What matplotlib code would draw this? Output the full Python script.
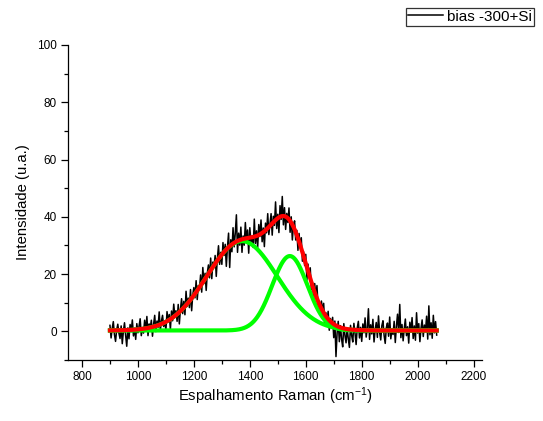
import numpy as np
import matplotlib
matplotlib.use("Agg")
import matplotlib.pyplot as plt
from matplotlib.ticker import MultipleLocator

plt.rcParams['font.family'] = ['Liberation Sans', 'DejaVu Sans']
plt.rcParams['mathtext.fontset'] = 'custom'
plt.rcParams['mathtext.rm'] = 'Liberation Sans'
plt.rcParams['mathtext.default'] = 'regular'

# Raman shift grid (cm^-1) and measured intensity (a.u.)
shift_start, shift_step = 900, 4
intensity = [
    2.1, -2.3, 1.0, 3.4, -1.1, -3.5, 0.5, 2.5, -0.6, -2.5,
    1.9, -4.3, 0.0, 3.0, -1.4, -5.2, 1.2, -2.6, 2.4, -0.1,
    4.0, -1.6, 1.1, -2.8, 2.7, -0.5, 1.8, 4.4, -1.5, 1.2,
    -0.6, 3.9, 0.3, 5.2, -1.5, 2.6, 1.2, 3.9, -1.7, 2.5,
    5.6, -0.1, 3.6, 1.4, 6.8, 0.3, 3.6, 5.6, 1.7, 3.5,
    0.4, 6.9, 3.4, 5.9, 0.7, 7.1, 3.7, 9.5, 5.2, 7.2,
    3.5, 9.4, 2.6, 7.7, 11.4, 6.2, 10.5, 5.8, 14.0, 8.7,
    11.6, 8.3, 14.6, 7.2, 12.8, 15.3, 11.7, 17.7, 11.1, 16.0,
    14.8, 19.7, 13.7, 22.3, 16.7, 20.3, 14.3, 20.4, 23.2, 18.7,
    25.6, 18.4, 24.2, 22.7, 26.5, 19.2, 25.5, 29.9, 23.4, 27.6,
    23.4, 31.0, 26.5, 30.4, 22.7, 29.5, 34.3, 22.3, 32.0, 27.8,
    36.2, 29.5, 34.3, 40.7, 27.6, 34.3, 30.1, 36.4, 27.6, 33.3,
    30.1, 38.0, 31.8, 35.4, 27.3, 36.2, 31.2, 33.3, 29.3, 39.2,
    30.7, 35.1, 29.3, 37.3, 33.1, 38.9, 31.3, 36.1, 29.6, 37.8,
    34.4, 41.1, 33.8, 37.4, 41.1, 33.6, 40.2, 37.0, 45.2, 35.9,
    40.9, 34.5, 43.9, 39.1, 47.1, 37.2, 43.2, 35.6, 41.2, 38.0,
    43.1, 34.6, 40.0, 31.9, 37.1, 38.6, 31.9, 35.3, 28.3, 34.2,
    29.5, 32.7, 24.5, 27.8, 23.0, 26.9, 17.9, 23.5, 19.1, 22.2,
    14.6, 17.1, 11.3, 16.7, 11.7, 16.0, 8.6, 10.5, 5.8, 10.6,
    7.0, 9.8, 2.1, 6.5, 2.8, 7.0, 0.4, 4.5, 1.8, 4.9,
    -2.2, 3.6, -8.8, -0.6, 3.5, -3.6, 2.0, -2.7, -5.4, 2.7,
    -1.4, -4.0, 1.2, -2.6, -5.6, 2.1, -1.4, -3.7, 2.8, -0.6,
    -4.6, 1.2, 3.5, -2.3, 1.4, -3.5, 2.6, -0.5, 4.7, -2.0,
    1.0, 7.9, -2.8, 2.3, -0.9, 4.2, -3.7, 0.6, 3.1, -2.1,
    5.4, -0.3, -3.0, 2.0, 3.7, -1.4, -4.2, 1.3, 2.9, -1.7,
    5.0, -2.6, 0.8, -1.1, 3.5, -3.9, 1.7, 6.0, -0.4, 9.4,
    -2.2, 2.4, -3.3, 0.9, 4.3, -1.5, 1.6, -4.1, 3.2, -0.2,
    4.8, -2.5, 1.9, -3.1, 6.5, -0.6, 2.7, -3.6, 1.1, 4.0,
    -1.8, 2.2, 0.0, 5.3, -2.7, 8.9, -1.2, 3.0, -2.4, 5.6,
    -0.5, 3.4, -1.3,
]
shift = shift_start + shift_step * np.arange(len(intensity))

# Fitted Gaussian components: (centre cm^-1, height a.u., sigma cm^-1)
baseline = 0.3
peak_d = (1372, 31.2, 126)
peak_g = (1543, 26.0, 63)

fit_x = np.linspace(shift[0], shift[-1], 600)


def gaussian(x, centre, height, sigma):
    return height * np.exp(-(x - centre) ** 2 / (2 * sigma ** 2))


comp_d = baseline + gaussian(fit_x, *peak_d)
comp_g = baseline + gaussian(fit_x, *peak_g)
total = baseline + gaussian(fit_x, *peak_d) + gaussian(fit_x, *peak_g)

fig = plt.figure(figsize=(5.43, 4.21), dpi=100)
ax = fig.add_axes([68 / 543, 61 / 421, 414 / 543, 315 / 421])

line, = ax.plot(shift, intensity, color='black', lw=1.1, label='bias -300+Si')
ax.plot(fit_x, comp_d, color='#00ff00', lw=3)
ax.plot(fit_x, comp_g, color='#00ff00', lw=3)
ax.plot(fit_x, total, color='#ff0000', lw=3)

ax.set_xlim(750, 2230)
ax.set_ylim(-10, 100)
ax.xaxis.set_major_locator(MultipleLocator(200))
ax.xaxis.set_minor_locator(MultipleLocator(100))
ax.yaxis.set_major_locator(MultipleLocator(20))
ax.yaxis.set_minor_locator(MultipleLocator(10))
ax.tick_params(which='major', direction='out', length=5, width=0.9, labelsize=8.5, pad=3)
ax.tick_params(which='minor', direction='out', length=3, width=0.9)
for side in ('top', 'right'):
    ax.spines[side].set_visible(False)
for side in ('left', 'bottom'):
    ax.spines[side].set_linewidth(0.9)

ax.set_xlabel('Espalhamento Raman (cm$^{-1}$)', fontsize=10.7, labelpad=2)
ax.set_ylabel('Intensidade (u.a.)', fontsize=10.7, labelpad=5)

leg = fig.legend(handles=[line], loc='upper right', bbox_to_anchor=(534 / 543, 1 - 8 / 421),
                 frameon=True, fancybox=False, fontsize=11, handlelength=2.3,
                 handletextpad=0.3, borderpad=0.12, borderaxespad=0)
leg.get_frame().set_edgecolor('black')
leg.get_frame().set_linewidth(0.9)

fig.savefig('out.png', dpi=100)
